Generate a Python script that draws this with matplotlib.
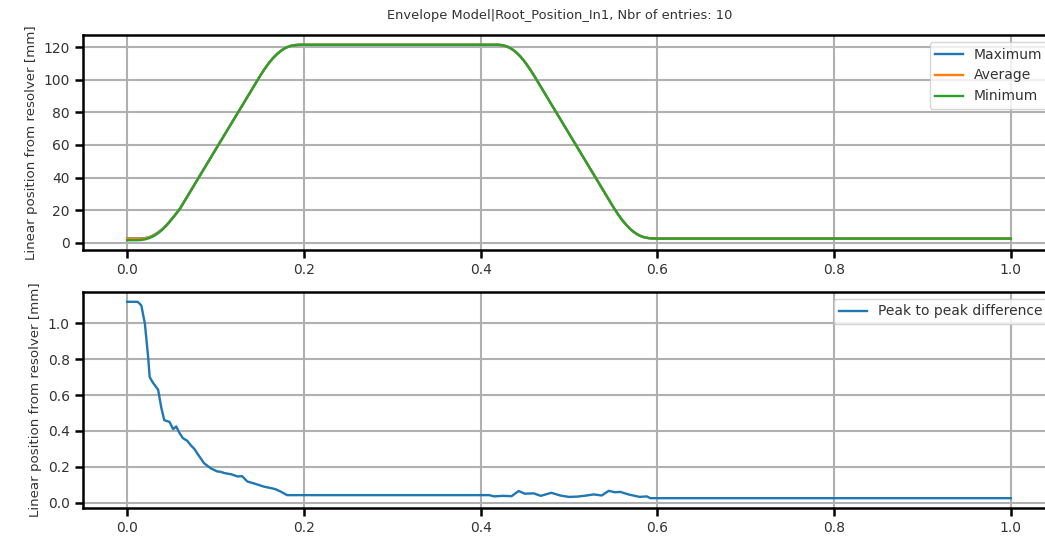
import matplotlib
matplotlib.use("Agg")
import matplotlib.pyplot as plt

title = "Envelope Model|Root_Position_In1, Nbr of entries: 10"
ylabel = "Linear position from resolver [mm]"
xticks = [0.0, 0.2, 0.4, 0.6, 0.8, 1.0]

# Top panel: envelope curves
t_env = [0.000, 0.010, 0.015, 0.020, 0.025, 0.030, 0.035, 0.040, 0.045, 0.050,
         0.055, 0.060, 0.070, 0.080, 0.090, 0.100, 0.110, 0.120, 0.130, 0.140,
         0.150, 0.155, 0.160, 0.165, 0.170, 0.175, 0.180, 0.185, 0.190, 0.195,
         0.200, 0.300, 0.420, 0.425, 0.430, 0.435, 0.440, 0.445, 0.450, 0.455,
         0.460, 0.470, 0.480, 0.490, 0.500, 0.510, 0.520, 0.530, 0.540, 0.550,
         0.555, 0.560, 0.565, 0.570, 0.575, 0.580, 0.585, 0.590, 0.595, 0.600,
         0.800, 1.000]
env_min = [1.5, 1.5, 1.6, 2.0, 2.8, 4.0, 5.8, 8.0, 10.8, 14.0,
           17.4, 21.0, 30.0, 39.0, 48.0, 57.0, 66.0, 75.0, 84.0, 93.0,
           102.0, 106.2, 110.0, 113.3, 116.0, 118.2, 119.8, 120.8, 121.3, 121.5,
           121.5, 121.5, 121.5, 121.2, 120.4, 119.0, 117.0, 114.3, 111.0, 107.2,
           103.0, 94.0, 85.0, 76.0, 67.0, 58.0, 49.0, 40.0, 31.0, 22.0,
           17.8, 14.0, 10.8, 8.0, 5.9, 4.3, 3.3, 2.8, 2.6, 2.5,
           2.5, 2.5]
env_avg = [2.5, 2.5, 2.5, 2.7, 3.3, 4.4, 6.1, 8.3, 11.0, 14.2,
           17.5, 21.1, 30.1, 39.1, 48.1, 57.1, 66.1, 75.1, 84.0, 93.0,
           102.0, 106.2, 110.0, 113.3, 116.0, 118.2, 119.8, 120.8, 121.3, 121.5,
           121.5, 121.5, 121.5, 121.2, 120.4, 119.0, 117.0, 114.3, 111.0, 107.2,
           103.0, 94.0, 85.0, 76.0, 67.0, 58.0, 49.0, 40.0, 31.0, 22.0,
           17.8, 14.0, 10.8, 8.0, 5.9, 4.3, 3.3, 2.8, 2.6, 2.5,
           2.5, 2.5]
env_max = [2.6, 2.6, 2.6, 2.8, 3.4, 4.6, 6.3, 8.5, 11.1, 14.3,
           17.6, 21.2, 30.2, 39.2, 48.2, 57.2, 66.2, 75.1, 84.0, 93.0,
           102.0, 106.2, 110.0, 113.3, 116.0, 118.2, 119.8, 120.8, 121.3, 121.5,
           121.5, 121.5, 121.5, 121.2, 120.4, 119.0, 117.0, 114.3, 111.0, 107.2,
           103.0, 94.0, 85.0, 76.0, 67.0, 58.0, 49.0, 40.0, 31.0, 22.0,
           17.8, 14.0, 10.8, 8.0, 5.9, 4.3, 3.3, 2.8, 2.6, 2.5,
           2.5, 2.5]

# Bottom panel: peak to peak difference
t_p2p = [0.000, 0.012, 0.016, 0.020, 0.0236, 0.0255, 0.029, 0.035, 0.0386, 0.042,
         0.048, 0.052, 0.0555, 0.059, 0.063, 0.068, 0.072, 0.076, 0.080, 0.087,
         0.095, 0.102, 0.106, 0.110, 0.118, 0.125, 0.130, 0.136, 0.145, 0.155,
         0.162, 0.168, 0.174, 0.181, 0.300, 0.410, 0.415, 0.425, 0.435, 0.443,
         0.450, 0.460, 0.468, 0.480, 0.490, 0.500, 0.510, 0.520, 0.528, 0.537,
         0.545, 0.552, 0.558, 0.568, 0.580, 0.588, 0.592, 0.800, 1.000]
p2p = [1.12, 1.12, 1.10, 1.00, 0.82, 0.70, 0.67, 0.63, 0.53, 0.46,
       0.45, 0.41, 0.425, 0.39, 0.36, 0.345, 0.32, 0.30, 0.27, 0.22,
       0.19, 0.174, 0.172, 0.165, 0.158, 0.146, 0.148, 0.118, 0.105, 0.089,
       0.082, 0.075, 0.061, 0.042, 0.042, 0.042, 0.035, 0.038, 0.036, 0.065,
       0.05, 0.052, 0.038, 0.055, 0.04, 0.032, 0.034, 0.04, 0.046, 0.04,
       0.066, 0.058, 0.06, 0.045, 0.032, 0.035, 0.025, 0.025, 0.025]

plt.rcParams['font.family'] = ['DejaVu Sans']
fig = plt.figure(figsize=(10.45, 5.41), dpi=100)
ax1 = fig.add_axes([0.0794, 0.5379, 0.9302, 0.3974])
ax2 = fig.add_axes([0.0794, 0.0610, 0.9302, 0.3993])

ax1.plot(t_env, env_max, color='#1f77b4', lw=1.7, label='Maximum')
ax1.plot(t_env, env_avg, color='#ff7f0e', lw=1.7, label='Average')
ax1.plot(t_env, env_min, color='#2ca02c', lw=1.7, label='Minimum')
ax1.set_yticks([0, 20, 40, 60, 80, 100, 120])
leg1 = ax1.legend(loc='upper right', fontsize=10)

ax2.plot(t_p2p, p2p, color='#1f77b4', lw=1.7, label='Peak to peak difference')
ax2.set_yticks([0.0, 0.2, 0.4, 0.6, 0.8, 1.0])
ax2.set_yticklabels(['0.0', '0.2', '0.4', '0.6', '0.8', '1.0'])
leg2 = ax2.legend(loc='upper right', fontsize=10)

for leg in (leg1, leg2):
    for txt in leg.get_texts():
        txt.set_color('#333333')

for ax in (ax1, ax2):
    ax.set_xticks(xticks)
    ax.set_xticklabels(['0.0', '0.2', '0.4', '0.6', '0.8', '1.0'])
    ax.grid(True, color='#b0b0b0', lw=1.5)
    ax.set_axisbelow(True)
    ax.tick_params(labelsize=10, width=1.8, length=6, labelcolor='#333333')
    for s in ax.spines.values():
        s.set_linewidth(1.8)
    ax.set_ylabel(ylabel, fontsize=9.6, color='#333333')

fig.text(0.536, 0.972, title, ha='center', va='center', fontsize=9.4, color='#333333')
fig.savefig('out.png', dpi=100)
